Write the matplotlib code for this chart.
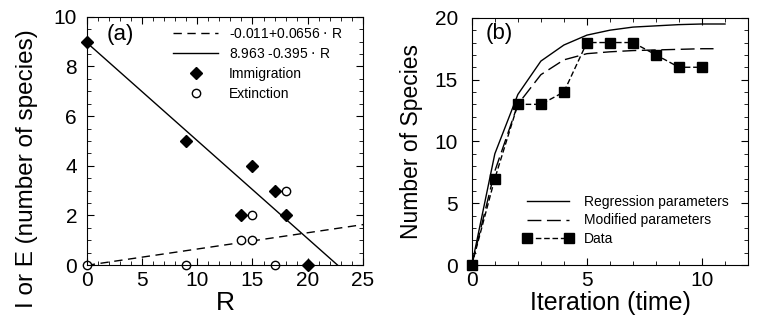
import numpy as np
import matplotlib
matplotlib.use('Agg')
import matplotlib.pyplot as plt
from matplotlib.ticker import MultipleLocator

plt.rcParams['font.family'] = ['Liberation Sans', 'DejaVu Sans']

# panel (a) data
imm_R = [0, 9, 15, 14, 17, 18, 20]
imm_I = [9, 5, 4, 2, 3, 2, 0]
ext_R = [0, 9, 14, 15, 15, 18, 17]
ext_E = [0, 0, 1, 1, 2, 3, 0]
ext_coef = [-0.011, 0.0656]
imm_coef = [8.963, -0.395]

# panel (b) data
data_t = [0, 1, 2, 3, 4, 5, 6, 7, 8, 9, 10]
data_S = [0, 7, 13, 13, 14, 18, 18, 18, 17, 16, 16]
reg_t = [0, 1, 2, 3, 4, 5, 6, 7, 8, 9, 10, 11]
reg_S = [0, 9.0, 13.8, 16.5, 17.8, 18.6, 19.0, 19.25, 19.35, 19.45, 19.5, 19.5]
mod_t = [0, 1, 2, 3, 4, 5, 6, 7, 8, 9, 10, 10.5]
mod_S = [0, 7.6, 13.0, 15.4, 16.6, 17.1, 17.25, 17.35, 17.4, 17.45, 17.5, 17.5]

fig = plt.figure(figsize=(7.61, 3.24), dpi=100)
ax1 = fig.add_axes([0.114, 0.182, 0.363, 0.766])
ax2 = fig.add_axes([0.620, 0.182, 0.363, 0.763])

# (a)
r = np.array([0, 25])
ax1.plot(r, ext_coef[0] + ext_coef[1] * r, 'k--', lw=1, dashes=(6, 4),
         label='-0.011+0.0656 $\\cdot$ R')
r0 = -imm_coef[0] / imm_coef[1]
r2 = np.array([0, r0])
ax1.plot(r2, imm_coef[0] + imm_coef[1] * r2, 'k-', lw=1, label='8.963 -0.395 $\\cdot$ R')
ax1.plot(imm_R, imm_I, 'kD', ms=6, ls='none', label='Immigration', clip_on=False)
ax1.plot(ext_R, ext_E, 'o', mfc='white', mec='k', ms=6, ls='none', label='Extinction', clip_on=False)
ax1.set_xlim(0, 25)
ax1.set_ylim(0, 10)
ax1.xaxis.set_major_locator(MultipleLocator(5))
ax1.xaxis.set_minor_locator(MultipleLocator(1))
ax1.yaxis.set_minor_locator(MultipleLocator(0.5))
ax1.set_xlabel('R', fontsize=19, labelpad=1)
ax1.set_ylabel('I or E (number of species)', fontsize=17.5)
ax1.yaxis.set_label_coords(-0.175, 0.39)
ax1.text(1.8, 9.3, '(a)', fontsize=16, va='center')
ax1.legend(loc='upper right', frameon=False, fontsize=10, handlelength=3.2,
           labelspacing=0.45, borderaxespad=0.3, bbox_to_anchor=(0.96, 1.0))

# (b)
ax2.plot(reg_t, reg_S, 'k-', lw=1, label='Regression parameters')
ax2.plot(mod_t, mod_S, 'k-', lw=1, dashes=(10, 4), label='Modified parameters')
ax2.plot(data_t, data_S, 'ks', ls='-', lw=1, dashes=(4, 2), ms=7, label='Data', clip_on=False)
ax2.set_xlim(0, 12)
ax2.set_ylim(0, 20)
ax2.xaxis.set_minor_locator(MultipleLocator(1))
ax2.yaxis.set_minor_locator(MultipleLocator(1))
ax2.set_xlabel('Iteration (time)', fontsize=18, labelpad=1)
ax2.set_ylabel('Number of Species', fontsize=16.5, labelpad=8)
ax2.text(0.6, 18.7, '(b)', fontsize=16, va='center')
ax2.legend(loc='lower right', frameon=False, fontsize=10, handlelength=3.6,
           labelspacing=0.3, borderaxespad=1.0, numpoints=2)

for ax in (ax1, ax2):
    ax.tick_params(which='both', direction='in', top=True, right=True, labelsize=15)
    ax.tick_params(which='major', length=5)
    ax.tick_params(which='minor', length=3)
    ax.tick_params(axis='x', pad=4)
ax1.tick_params(axis='y', pad=7)
ax2.tick_params(axis='y', pad=10)

fig.savefig('out.png', dpi=100)
